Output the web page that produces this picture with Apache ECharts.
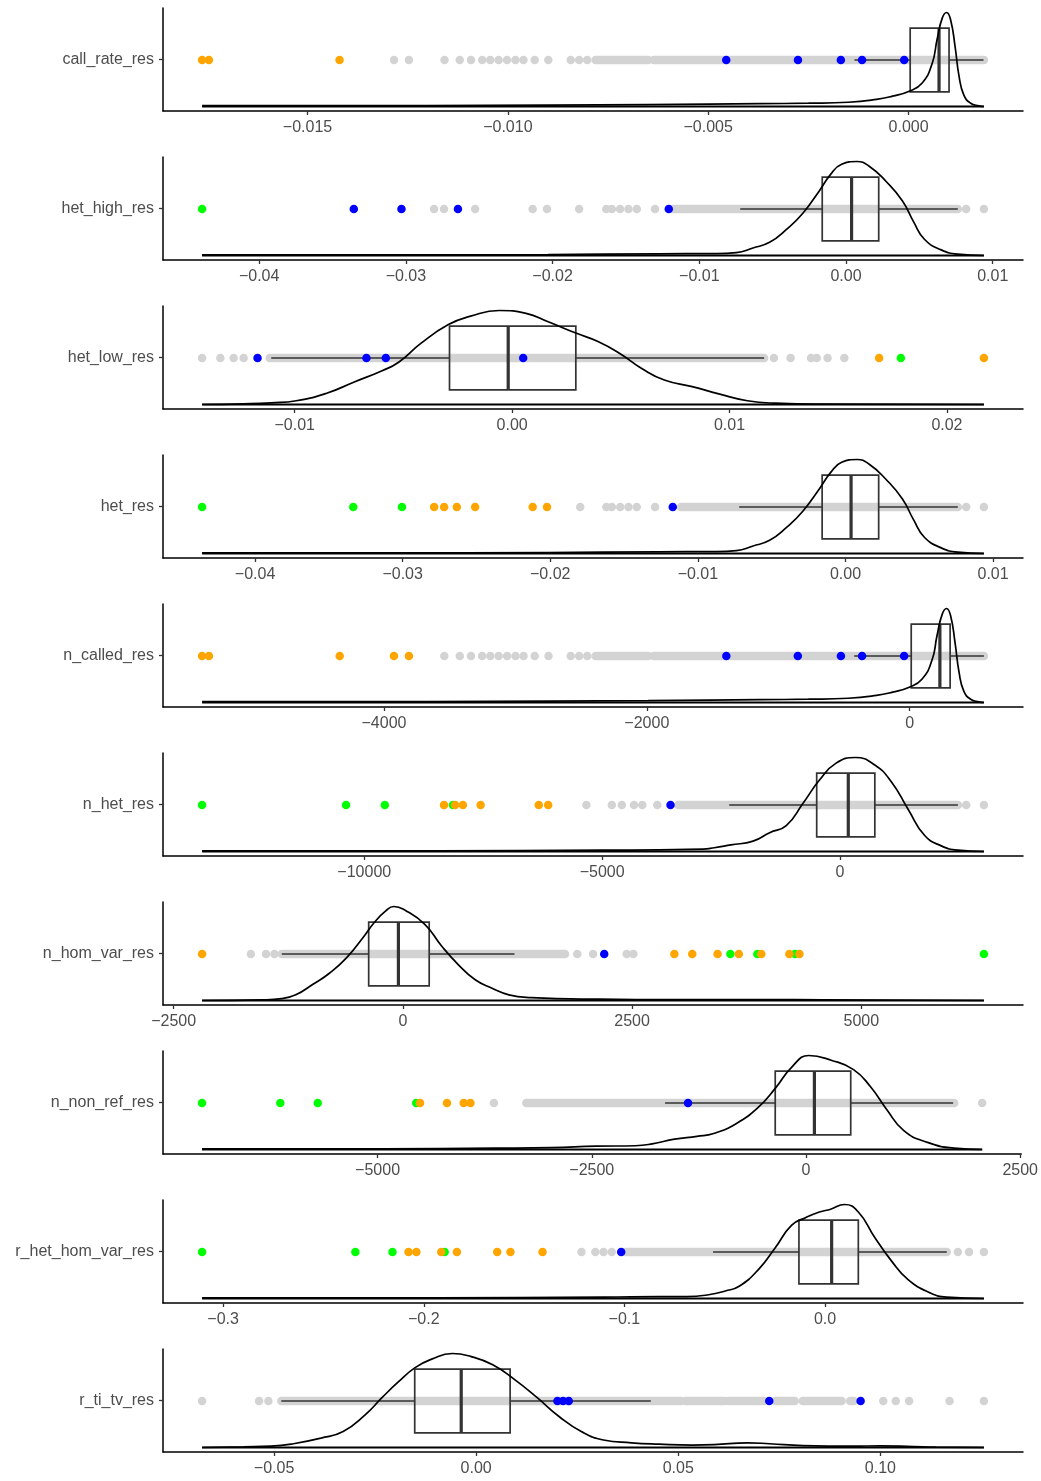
<!DOCTYPE html>
<html>
<head>
<meta charset="utf-8">
<script src="https://cdn.jsdelivr.net/npm/echarts@6/dist/echarts.min.js"></script>
<style>
  html, body { margin: 0; padding: 0; background: #fff; }
  #chart { width: 1041px; height: 1481px; }
</style>
</head>
<body>
<div id="chart"></div>
<script>
/* one row per residual variable */
var names = ['call_rate_res', 'het_high_res', 'het_low_res', 'het_res', 'n_called_res',
             'n_het_res', 'n_hom_var_res', 'n_non_ref_res', 'r_het_hom_var_res', 'r_ti_tv_res'];

var tickValues = [
  [-0.015, -0.010, -0.005, 0],
  [-0.04, -0.03, -0.02, -0.01, 0, 0.01],
  [-0.01, 0, 0.01, 0.02],
  [-0.04, -0.03, -0.02, -0.01, 0, 0.01],
  [-4000, -2000, 0],
  [-10000, -5000, 0],
  [-2500, 0, 2500, 5000],
  [-5000, -2500, 0, 2500],
  [-0.3, -0.2, -0.1, 0],
  [-0.05, 0, 0.05, 0.10]
];
var tickDecimals = [3, 2, 2, 2, 0, 0, 0, 0, 1, 2];

// points that stand alone (grey)
var greyPoints = [
  [-0.01284, -0.01247, -0.01158, -0.01120, -0.01092, -0.01064, -0.01044, -0.01023, -0.01002, -0.00981, -0.00961, -0.00933, -0.00899, -0.00843, -0.00822, -0.00802],
  [-0.02808, -0.02740, -0.02528, -0.02136, -0.02038, -0.01819, -0.01634, -0.01596, -0.01540, -0.01483, -0.01426, -0.01302, 0.00819, 0.00940],
  [-0.01426, -0.01342, -0.01281, -0.01235, 0.01204, 0.01281, 0.01375, 0.01401, 0.01451, 0.01528],
  [-0.01797, -0.01620, -0.01583, -0.01526, -0.01470, -0.01414, -0.01290, 0.00818, 0.00938],
  [-3541, -3423, -3338, -3253, -3191, -3127, -3063, -2999, -2938, -2853, -2748, -2579, -2515, -2453],
  [-5331, -4796, -4586, -4330, -4155, -3841, 2654, 3026],
  [-1658, -1493, -1401, 1902, 2074, 2441, 2514],
  [-3642, 2056],
  [-0.1214, -0.1145, -0.1104, -0.1063, 0.0662, 0.0718, 0.0792],
  [-0.0678, -0.0537, -0.0514, 0.1007, 0.1038, 0.1071, 0.1171, 0.1256]
];
// stretches where grey points overlap into a solid band [from, to]
var greyRuns = [
  [[-0.00781, -0.00650], [-0.00636, 0.00188]],
  [[-0.01181, 0.00762]],
  [[-0.01115, 0.01159]],
  [[-0.01114, 0.00761]],
  [[-2390, -1990], [-1947, 565]],
  [[-3399, 2479]],
  [[-1321, 1768]],
  [[-3264, 1730]],
  [[-0.0994, 0.0607]],
  [[-0.0482, 0.0507], [0.0518, 0.0614], [0.0623, 0.0712], [0.0740, 0.0788], [0.0808, 0.0904], [0.0925, 0.0934]]
];
var orangePoints = [
  [-0.01763, -0.01746, -0.01420],
  [],
  [0.01688, 0.02170],
  [-0.02787, -0.02719, -0.02633, -0.02509, -0.02119, -0.02022],
  [-5384, -5332, -4337, -3924, -3810],
  [-8323, -8090, -7927, -7554, -6332, -6134],
  [-2190, 2961, 3156, 3432, 3664, 3909, 4215, 4325],
  [-4504, -4190, -3995, -3916],
  [-0.2076, -0.2037, -0.1913, -0.1835, -0.1634, -0.1568, -0.1408],
  []
];
var bluePoints = [
  [-0.00455, -0.00276, -0.00169, -0.00116, -0.00011],
  [-0.03355, -0.03030, -0.02645, -0.01208],
  [-0.01171, -0.00670, -0.00581, 0.00051],
  [-0.01170],
  [-1395, -851, -523, -362, -42],
  [-3562],
  [2196],
  [-1377],
  [-0.1016],
  [0.0201, 0.0215, 0.0229, 0.0725, 0.0951]
];
var greenPoints = [
  [],
  [-0.04389],
  [0.01788],
  [-0.04359, -0.03335, -0.03005],
  [],
  [-13409, -10383, -9568, -8136],
  [3572, 3866, 4276, 6337],
  [-7049, -6135, -5698, -4549],
  [-0.3105, -0.2341, -0.2156, -0.1896],
  []
];

// lower whisker, Q1, median, Q3, upper whisker
var boxStats = [
  [-0.00135, 0.00004, 0.00076, 0.00101, 0.00187],
  [-0.00721, -0.00162, 0.00038, 0.00223, 0.00762],
  [-0.01108, -0.00288, -0.00018, 0.00293, 0.01159],
  [-0.00720, -0.00158, 0.00038, 0.00225, 0.00761],
  [-422, 12, 230, 308, 565],
  [-2328, -489, 175, 733, 2479],
  [-1321, -373, -49, 287, 1217],
  [-1645, -359, 98, 522, 1717],
  [-0.0558, -0.0130, 0.0033, 0.0166, 0.0607],
  [-0.0482, -0.0152, -0.0037, 0.0084, 0.0432]
];

// scaled density (peak = 1)
var densX = [
  [-0.01763, -0.012, -0.009, -0.0065, -0.005, -0.0037, -0.0025, -0.0015, -0.0008, -0.0004, 0.0, 0.00034, 0.00059, 0.00071, 0.00084, 0.00095, 0.00105, 0.00116, 0.00126, 0.00138, 0.00155, 0.00176, 0.00188],
  [-0.04389, -0.03162, -0.02030, -0.01275, -0.00898, -0.00747, -0.00634, -0.00521, -0.00408, -0.00294, -0.00181, -0.00106, -0.00030, 0.00075, 0.00158, 0.00272, 0.00385, 0.00460, 0.00536, 0.00649, 0.00762, 0.00940],
  [-0.01426, -0.01235, -0.01108, -0.00993, -0.00853, -0.00726, -0.00598, -0.00522, -0.00420, -0.00293, -0.00191, -0.00059, 0.00064, 0.00166, 0.00293, 0.00395, 0.00497, 0.00598, 0.00700, 0.00828, 0.00955, 0.01082, 0.01210, 0.01439, 0.02170],
  [-0.04359, -0.03140, -0.02014, -0.01264, -0.00889, -0.00739, -0.00626, -0.00514, -0.00401, -0.00289, -0.00176, -0.00101, -0.00026, 0.00079, 0.00161, 0.00274, 0.00386, 0.00461, 0.00536, 0.00649, 0.00761, 0.00938],
  [-5384, -3667, -2753, -1990, -1533, -1137, -771, -466, -252, -130, -8, 95, 172, 208, 248, 281, 312, 345, 376, 412, 464, 528, 565],
  [-13409, -8462, -4970, -3806, -2875, -2642, -2293, -1827, -1478, -1129, -780, -431, -81, 326, 733, 1083, 1432, 1781, 2130, 2479, 3026],
  [-2190, -1535, -1321, -1168, -985, -801, -618, -434, -312, -190, -98, 24, 239, 422, 606, 789, 973, 1156, 1401, 1829, 2135, 2747, 3970, 4582, 6337],
  [-7049, -4928, -3622, -2970, -2448, -1991, -1795, -1534, -1273, -1077, -816, -555, -359, -163, 33, 294, 555, 751, 946, 1142, 1403, 1730, 2056],
  [-0.3105, -0.1932, -0.1104, -0.0966, -0.0690, -0.0580, -0.0497, -0.0428, -0.0331, -0.0248, -0.0166, -0.0097, -0.0028, 0.0028, 0.0097, 0.0166, 0.0248, 0.0331, 0.0414, 0.0524, 0.0607, 0.0792],
  [-0.0678, -0.0575, -0.0507, -0.0452, -0.0384, -0.0329, -0.0274, -0.0233, -0.0192, -0.0151, -0.0110, -0.0059, -0.0014, 0.0041, 0.0096, 0.0151, 0.0205, 0.0260, 0.0315, 0.0384, 0.0452, 0.0534, 0.0589, 0.0671, 0.0726, 0.0808, 0.0932, 0.1000, 0.1082, 0.1137, 0.1256]
];
var densY = [
  [0.01, 0.01, 0.015, 0.02, 0.025, 0.03, 0.035, 0.045, 0.075, 0.11, 0.16, 0.25, 0.46, 0.71, 0.94, 1.0, 0.92, 0.64, 0.32, 0.12, 0.035, 0.007, 0],
  [0.007, 0.007, 0.01, 0.018, 0.02, 0.03, 0.08, 0.14, 0.275, 0.45, 0.69, 0.86, 0.97, 1.0, 0.95, 0.79, 0.58, 0.36, 0.17, 0.06, 0.014, 0],
  [0, 0.007, 0.018, 0.04, 0.12, 0.24, 0.36, 0.45, 0.65, 0.85, 0.94, 1.0, 0.97, 0.88, 0.76, 0.67, 0.54, 0.38, 0.26, 0.19, 0.11, 0.04, 0.014, 0.004, 0],
  [0.007, 0.007, 0.01, 0.018, 0.02, 0.03, 0.08, 0.14, 0.275, 0.45, 0.69, 0.86, 0.97, 1.0, 0.95, 0.79, 0.58, 0.36, 0.17, 0.06, 0.014, 0],
  [0.01, 0.01, 0.015, 0.02, 0.025, 0.03, 0.035, 0.045, 0.075, 0.11, 0.16, 0.25, 0.46, 0.71, 0.94, 1.0, 0.92, 0.64, 0.32, 0.12, 0.035, 0.007, 0],
  [0.007, 0.007, 0.014, 0.018, 0.025, 0.04, 0.07, 0.11, 0.2, 0.275, 0.51, 0.76, 0.94, 1.0, 0.92, 0.74, 0.45, 0.17, 0.06, 0.014, 0],
  [0, 0.007, 0.02, 0.06, 0.17, 0.29, 0.45, 0.67, 0.83, 0.95, 1.0, 0.96, 0.81, 0.58, 0.38, 0.22, 0.13, 0.06, 0.03, 0.018, 0.014, 0.01, 0.01, 0.007, 0],
  [0.007, 0.007, 0.014, 0.02, 0.035, 0.04, 0.06, 0.11, 0.14, 0.17, 0.275, 0.45, 0.65, 0.88, 1.0, 0.95, 0.85, 0.67, 0.42, 0.2, 0.08, 0.014, 0],
  [0.007, 0.007, 0.014, 0.018, 0.02, 0.04, 0.08, 0.13, 0.31, 0.54, 0.78, 0.86, 0.92, 0.95, 1.0, 0.92, 0.65, 0.40, 0.20, 0.06, 0.014, 0],
  [0, 0.007, 0.014, 0.04, 0.10, 0.17, 0.35, 0.53, 0.70, 0.85, 0.94, 1.0, 0.97, 0.88, 0.72, 0.53, 0.33, 0.17, 0.08, 0.05, 0.035, 0.025, 0.03, 0.05, 0.04, 0.02, 0.014, 0.018, 0.01, 0.004, 0]
];

var FONT = 'Liberation Sans, Arial, Helvetica, sans-serif';
var chart = echarts.init(document.getElementById('chart'));

var grids = [], xAxes = [], yAxes = [], series = [];

function fmt(dec) {
  return function (v) {
    var s = Math.abs(v).toFixed(dec);
    return (v < 0 ? '\u2212' : '') + s;
  };
}

names.forEach(function (name, k) {
  // ggplot style range: data limits plus 5% each side
  var all = [].concat(greyPoints[k], orangePoints[k], bluePoints[k], greenPoints[k]);
  greyRuns[k].forEach(function (r) { all.push(r[0], r[1]); });
  var lo = Math.min.apply(null, all), hi = Math.max.apply(null, all);
  var pad = (hi - lo) * 0.05;

  grids.push({left: 163, width: 860, top: 8 + 149 * k, height: 103});

  xAxes.push({
    type: 'value', gridIndex: k, min: lo - pad, max: hi + pad,
    splitLine: {show: false},
    axisLine: {show: true, onZero: false, lineStyle: {color: '#000', width: 1.5}},
    axisTick: {show: true, length: 4, customValues: tickValues[k], lineStyle: {color: '#333', width: 1.3}},
    axisLabel: {customValues: tickValues[k], formatter: fmt(tickDecimals[k]),
                color: '#4d4d4d', fontSize: 16, margin: 9, fontFamily: FONT}
  });
  yAxes.push({
    type: 'category', gridIndex: k, data: [name],
    axisLine: {show: true, onZero: false, lineStyle: {color: '#000', width: 1.5}},
    axisTick: {show: true, alignWithLabel: true, length: 4, lineStyle: {color: '#333', width: 1.3}},
    axisLabel: {color: '#4d4d4d', fontSize: 16, margin: 9, fontFamily: FONT, padding: [4, 0, 0, 0]},
    splitLine: {show: false}
  });
  yAxes.push({type: 'value', gridIndex: k, min: -0.048, max: 1.048, show: false});

  var cat = 2 * k, dens = 2 * k + 1;

  series.push({
    type: 'custom', xAxisIndex: k, yAxisIndex: cat, z: 1, silent: true,
    encode: {x: [0, 1], y: 2},
    data: greyRuns[k].map(function (r) { return [r[0], r[1], 0]; }),
    renderItem: function (params, api) {
      var a = api.coord([api.value(0), 0]), b = api.coord([api.value(1), 0]);
      return {type: 'line', shape: {x1: a[0], y1: a[1] + 0.5, x2: b[0], y2: b[1] + 0.5},
              style: {stroke: '#d3d3d3', lineWidth: 8.5, lineCap: 'round'}};
    }
  });
  series.push({
    type: 'scatter', xAxisIndex: k, yAxisIndex: cat, z: 1, silent: true,
    symbolSize: 8.5, symbolOffset: [0, 0.5], itemStyle: {color: '#d3d3d3', opacity: 1},
    data: greyPoints[k].map(function (v) { return [v, 0]; })
  });
  series.push({
    type: 'custom', xAxisIndex: k, yAxisIndex: cat, z: 2, silent: true,
    encode: {x: [0, 1, 2, 3, 4], y: 5},
    data: [boxStats[k].concat([0])],
    renderItem: function (params, api) {
      var xs = [0, 1, 2, 3, 4].map(function (i) { return api.coord([api.value(i), 0])[0]; });
      var y = api.coord([api.value(0), 0])[1] + 0.5;
      var h = api.size([0, 1])[1] * 0.62;
      var st = {stroke: '#333333', lineWidth: 1.7, fill: 'none'};
      return {type: 'group', children: [
        {type: 'line', shape: {x1: xs[0], y1: y, x2: xs[1], y2: y}, style: st},
        {type: 'line', shape: {x1: xs[3], y1: y, x2: xs[4], y2: y}, style: st},
        {type: 'rect', shape: {x: xs[1], y: y - h / 2, width: xs[3] - xs[1], height: h}, style: st},
        {type: 'line', shape: {x1: xs[2], y1: y - h / 2, x2: xs[2], y2: y + h / 2},
         style: {stroke: '#333333', lineWidth: 3.2}}
      ]};
    }
  });
  [[greenPoints, '#00ff00'], [orangePoints, '#ffa500'], [bluePoints, '#0000ff']].forEach(function (p) {
    series.push({
      type: 'scatter', xAxisIndex: k, yAxisIndex: cat, z: 3, silent: true,
      symbolSize: 8.5, symbolOffset: [0, 0.5], itemStyle: {color: p[1], opacity: 1},
      data: p[0][k].map(function (v) { return [v, 0]; })
    });
  });
  var dx = densX[k], dy = densY[k];
  series.push({
    type: 'line', xAxisIndex: k, yAxisIndex: dens, z: 4, silent: true,
    smooth: 0.5, showSymbol: false,
    lineStyle: {color: '#000', width: 1.7},
    data: dx.map(function (x, i) { return [x, dy[i]]; })
  });
  series.push({
    type: 'line', xAxisIndex: k, yAxisIndex: dens, z: 4, silent: true, showSymbol: false,
    lineStyle: {color: '#000', width: 1.8},
    data: [[dx[0], 0], [dx[dx.length - 1], 0]]
  });
});

chart.setOption({
  animation: false,
  backgroundColor: '#fff',
  grid: grids,
  xAxis: xAxes,
  yAxis: yAxes,
  series: series
});
</script>
</body>
</html>
